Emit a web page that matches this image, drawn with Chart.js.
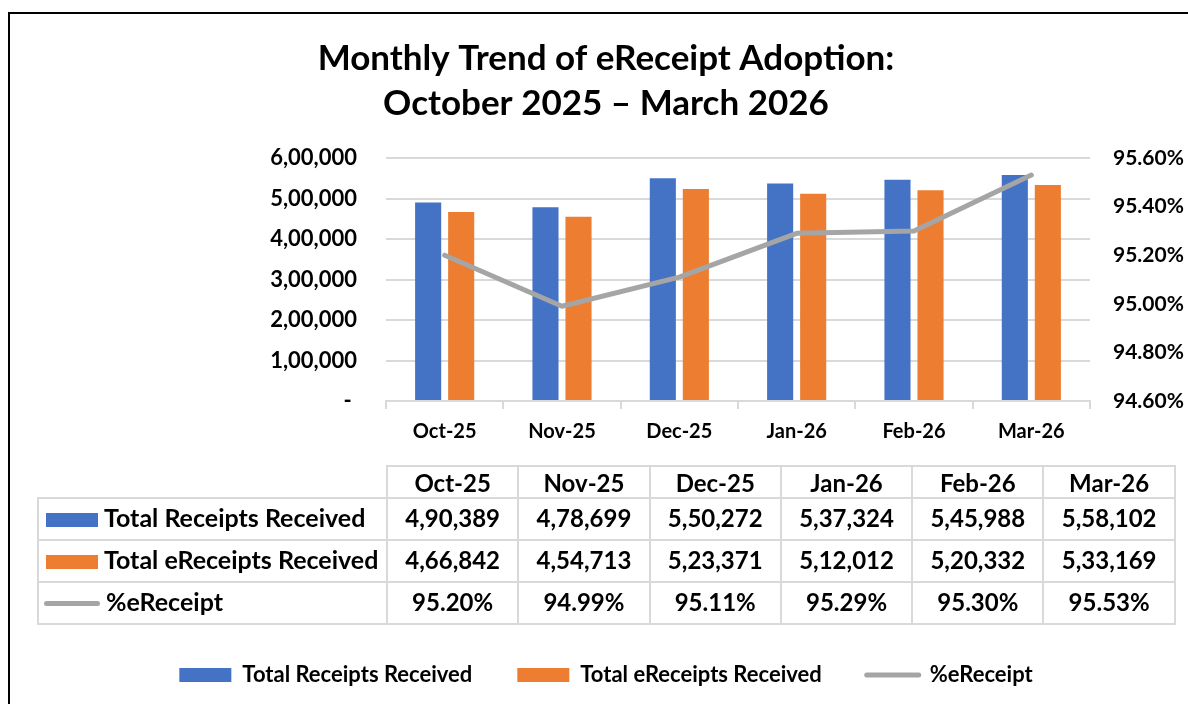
<!DOCTYPE html>
<html>
<head>
<meta charset="utf-8">
<title>Monthly Trend of eReceipt Adoption</title>
<script src="https://cdn.jsdelivr.net/npm/chart.js@4.4.1/dist/chart.umd.min.js"></script>
<style>
  html, body { margin: 0; padding: 0; background: #fff; overflow: hidden; }
  body { width: 1188px; height: 704px; position: relative; font-family: Lato, sans-serif; }
  #frame { position: absolute; left: 8px; top: 12px; width: 1194px; height: 720px; border: 2px solid #000; }
  #chartBox { position: absolute; left: 0; top: 0; width: 1192px; height: 690px; }
  #dataTable { position: absolute; left: 37px; top: 465px; width: 1137px; border-collapse: collapse;
    table-layout: fixed; font: bold 24px Lato, sans-serif; color: #000; }
  #dataTable td { border: 2px solid #d9d9d9; text-align: center; padding: 0; white-space: nowrap; vertical-align: middle; }
  #dataTable tr.head td { height: 30px; }
  #dataTable tr.body td { height: 40px; }
  #dataTable td.lab { text-align: left; padding-left: 7px; font-size: 25px; }
  #dataTable td.blank { border-top: none; border-left: none; }
  #dataTable tr.body td > span.t { position: relative; top: -2px; }
  .sw { display: inline-block; vertical-align: middle; margin-right: 6px; position: relative; top: -3px; }
  .sw.box { width: 52px; height: 14px; }
  .sw.line { width: 56px; height: 5px; border-radius: 3px; margin-left: -2px; }
</style>
</head>
<body>
<div id="frame">
  <div id="chartBox"><canvas id="trend"></canvas></div>
</div>
<table id="dataTable"></table>
<script>
'use strict';

// chart data
const months = ['Oct-25', 'Nov-25', 'Dec-25', 'Jan-26', 'Feb-26', 'Mar-26'];
const totalReceipts = [490389, 478699, 550272, 537324, 545988, 558102];
const totalEReceipts = [466842, 454713, 523371, 512012, 520332, 533169];
const eReceiptPct = [95.20, 94.99, 95.11, 95.29, 95.30, 95.53];
const seriesNames = ['Total Receipts Received', 'Total eReceipts Received', '%eReceipt'];
const titleLines = ['Monthly Trend of eReceipt Adoption:', 'October 2025 \u2013 March 2026'];

const blue = '#4472C4';
const orange = '#ED7D31';
const grey = '#A5A5A5';
const gridGrey = '#d9d9d9';

// 490389 -> 4,90,389
function inr(n) {
  let s = String(Math.round(n));
  if (s.length <= 3) return s;
  let last3 = s.slice(-3), rest = s.slice(0, -3);
  rest = rest.replace(/\B(?=(\d{2})+(?!\d))/g, ',');
  return rest + ',' + last3;
}

Chart.defaults.font.family = 'Lato, sans-serif';
Chart.defaults.font.weight = 'bold';
Chart.defaults.color = '#000';

var ctx = document.getElementById('trend');
var trendChart = new Chart(ctx, {
  type: 'bar',
  data: {
    labels: months,
    datasets: [{
      label: seriesNames[0],
      data: totalReceipts,
      backgroundColor: blue,
      yAxisID: 'y',
      order: 1,
      pointStyle: 'rect',
      categoryPercentage: 0.563,
      barPercentage: 0.79
    }, {
      label: seriesNames[1],
      data: totalEReceipts,
      backgroundColor: orange,
      yAxisID: 'y',
      order: 1,
      pointStyle: 'rect',
      categoryPercentage: 0.563,
      barPercentage: 0.79
    }, {
      type: 'line',
      label: seriesNames[2],
      data: eReceiptPct,
      borderColor: grey,
      backgroundColor: grey,
      borderWidth: 5,
      borderJoinStyle: 'round',
      borderCapStyle: 'round',
      pointRadius: 0,
      pointHoverRadius: 0,
      pointStyle: 'line',
      pointBorderWidth: 5,
      pointBorderColor: grey,
      tension: 0,
      yAxisID: 'y1',
      order: 0
    }]
  },
  options: {
    responsive: true,
    maintainAspectRatio: false,
    animation: false,
    layout: { padding: { left: 0, right: 0, top: 0, bottom: 8 } },
    plugins: {
      tooltip: { enabled: false },
      title: {
        display: true,
        text: titleLines,
        color: '#000',
        font: { size: 35, weight: 'bold', lineHeight: '45px' },
        padding: { top: 22, bottom: 32 }
      },
      legend: {
        position: 'bottom',
        labels: {
          usePointStyle: true,
          pointStyleWidth: 52,
          boxHeight: 14,
          padding: 45,
          font: { size: 22, weight: 'bold' },
          sort: (a, b) => a.datasetIndex - b.datasetIndex,
          generateLabels(chart) {
            const items = Chart.defaults.plugins.legend.labels.generateLabels(chart);
            items.forEach(it => {
              if (it.pointStyle === 'line') {
                it.lineWidth = 5;
                it.strokeStyle = grey;
                it.lineCap = 'round';
              }
            });
            return items;
          }
        }
      }
    },
    scales: {
      x: {
        grid: { offset: true, drawOnChartArea: false, drawTicks: true, tickLength: 8, color: gridGrey, lineWidth: 2 },
        border: { display: true, color: gridGrey, width: 2 },
        ticks: { font: { size: 20, weight: 'bold' }, padding: 11, color: '#000' },
        afterFit(scale) { scale.height = 218; }
      },
      y: {
        position: 'left',
        min: 0,
        max: 600000,
        ticks: {
          stepSize: 100000,
          padding: 29,
          font: { size: 22, weight: 'bold' },
          callback: (v) => v === 0 ? '- ' : inr(v)
        },
        grid: { color: gridGrey, lineWidth: 2, drawTicks: false },
        border: { display: false },
        afterFit(scale) { scale.width = 376; }
      },
      y1: {
        position: 'right',
        min: 94.6,
        max: 95.6,
        ticks: {
          stepSize: 0.2,
          padding: 23,
          font: { size: 21, weight: 'bold' },
          callback: (v) => Number(v).toFixed(2) + '%'
        },
        grid: { display: false, drawTicks: false },
        border: { display: false },
        afterFit(scale) { scale.width = 112; }
      }
    }
  }
});

// data table under the chart
function buildTable() {
  const table = document.getElementById('dataTable');
  let html = '<colgroup><col style="width:349px">';
  months.forEach(() => { html += '<col style="width:131.3px">'; });
  html += '</colgroup>';
  html += '<tr class="head"><td class="blank"></td>';
  months.forEach(m => { html += `<td>${m}</td>`; });
  html += '</tr>';

  const rows = [
    { name: seriesNames[0], cells: totalReceipts.map(inr), sw: `<span class="sw box" style="background:${blue}"></span>` },
    { name: seriesNames[1], cells: totalEReceipts.map(inr), sw: `<span class="sw box" style="background:${orange}"></span>` },
    { name: seriesNames[2], cells: eReceiptPct.map(v => v.toFixed(2) + '%'), sw: `<span class="sw line" style="background:${grey}"></span>` }
  ];
  rows.forEach(r => {
    html += `<tr class="body"><td class="lab">${r.sw}<span class="t">${r.name}</span></td>`;
    r.cells.forEach(c => { html += `<td><span class="t">${c}</span></td>`; });
    html += '</tr>';
  });
  table.innerHTML = html;
}
buildTable();
</script>
</body>
</html>
